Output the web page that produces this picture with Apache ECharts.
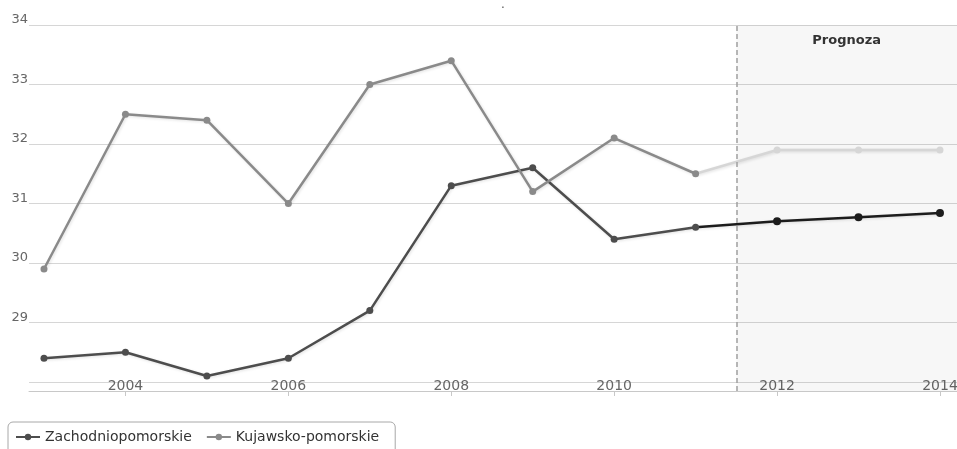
<!DOCTYPE html>
<html>
<head>
<meta charset="utf-8">
<script src="https://cdn.jsdelivr.net/npm/echarts@6/dist/echarts.min.js"></script>
<style>
  html, body { margin: 0; padding: 0; background: #fff; }
  #chart { width: 957px; height: 449px; }
</style>
</head>
<body>
<div id="chart"></div>
<script>
// Years and values
var years = [2003, 2004, 2005, 2006, 2007, 2008, 2009, 2010, 2011, 2012, 2013, 2014];
var zachodniopomorskie = [28.4, 28.5, 28.1, 28.4, 29.2, 31.3, 31.6, 30.4, 30.6, 30.7, 30.77, 30.84];
var kujawskoPomorskie = [29.9, 32.5, 32.4, 31.0, 33.0, 33.4, 31.2, 32.1, 31.5, 31.9, 31.9, 31.9];
var lastActualYear = 2011;
var forecastStart = 2011.5;
var xTickLabels = [2004, 2006, 2008, 2010, 2012, 2014];
var yTicks = [28, 29, 30, 31, 32, 33, 34];
var yTickLabels = [29, 30, 31, 32, 33, 34];
var seriesNames = ['Zachodniopomorskie', 'Kujawsko-pomorskie'];

var X_MIN = 2002.816, X_MAX = 2014.209;
var Y_MIN = 27.849, Y_MAX = 34;

function actualPart(vals) {
  var out = [];
  years.forEach(function (y, i) { if (y <= lastActualYear) out.push([y, vals[i]]); });
  return out;
}
function forecastPart(vals) {
  var out = [];
  years.forEach(function (y, i) {
    if (y === lastActualYear) out.push({ value: [y, vals[i]], symbol: 'none' });
    else if (y > lastActualYear) out.push([y, vals[i]]);
  });
  return out;
}

var FONT = 'DejaVu Sans';
var chart = echarts.init(document.getElementById('chart'), null, { renderer: 'canvas' });

var lineShadow = { shadowColor: 'rgba(0,0,0,0.12)', shadowBlur: 3, shadowOffsetX: 1, shadowOffsetY: 1 };

chart.setOption({
  animation: false,
  backgroundColor: '#ffffff',
  title: {
    text: '.',
    left: 496, top: -6,
    textStyle: { fontSize: 12, color: '#555', fontWeight: 'normal', fontFamily: FONT }
  },
  grid: { left: 29, right: 0, top: 25, bottom: 58, containLabel: false, outerBoundsMode: 'none' },
  legend: {
    data: seriesNames,
    left: 8, top: 422,
    orient: 'horizontal',
    padding: [8, 16, 10, 7],
    itemGap: 14,
    itemWidth: 24, itemHeight: 8,
    borderColor: '#a8a8a8', borderWidth: 1, borderRadius: 5,
    textStyle: { fontSize: 14, color: '#333', fontFamily: FONT }
  },
  xAxis: {
    type: 'value',
    min: X_MIN, max: X_MAX,
    axisLine: { show: true, lineStyle: { color: '#c8c8c8', width: 1 } },
    axisTick: { show: true, customValues: xTickLabels, length: 5, lineStyle: { color: '#c8c8c8' } },
    axisLabel: {
      customValues: xTickLabels, color: '#666', fontSize: 14, fontFamily: FONT,
      verticalAlign: 'middle', margin: -5,
      formatter: function (v) { return String(Math.round(v)); }
    },
    splitLine: { show: false }
  },
  yAxis: {
    type: 'value',
    min: Y_MIN, max: Y_MAX,
    axisLine: { show: false },
    axisTick: { show: false, customValues: yTicks },
    axisLabel: {
      customValues: yTickLabels, color: '#666', fontSize: 13, fontFamily: FONT,
      align: 'right', verticalAlign: 'bottom', margin: 1, lineHeight: 10
    },
    splitLine: { show: true, lineStyle: { color: '#d6d6d6', width: 1 } }
  },
  series: [
    {
      name: seriesNames[0], type: 'line', z: 4,
      data: actualPart(zachodniopomorskie),
      symbol: 'circle', symbolSize: 7,
      itemStyle: { color: '#4d4d4d' },
      lineStyle: Object.assign({ color: '#4d4d4d', width: 2.5 }, lineShadow),
      markArea: {
        silent: true,
        itemStyle: { color: 'rgba(0,0,0,0.03)' },
        label: {
          show: true, position: 'insideTop', distance: 9,
          fontSize: 13, fontWeight: 'bold', color: '#333', fontFamily: FONT
        },
        data: [[{ name: 'Prognoza', xAxis: forecastStart }, { xAxis: X_MAX }]]
      },
      markLine: {
        silent: true, symbol: 'none',
        label: { show: false },
        lineStyle: { color: '#a0a0a0', type: [5, 3], width: 1.5 },
        data: [{ xAxis: forecastStart }]
      }
    },
    {
      name: seriesNames[0], type: 'line', z: 3,
      data: forecastPart(zachodniopomorskie),
      symbol: 'circle', symbolSize: 8,
      itemStyle: { color: '#1c1c1c' },
      lineStyle: Object.assign({ color: '#1c1c1c', width: 2.5 }, lineShadow)
    },
    {
      name: seriesNames[1], type: 'line', z: 4,
      data: actualPart(kujawskoPomorskie),
      symbol: 'circle', symbolSize: 7,
      itemStyle: { color: '#8a8a8a' },
      lineStyle: Object.assign({ color: '#8a8a8a', width: 2.5 }, lineShadow)
    },
    {
      name: seriesNames[1], type: 'line', z: 3,
      data: forecastPart(kujawskoPomorskie),
      symbol: 'circle', symbolSize: 7,
      itemStyle: { color: '#d6d6d6' },
      lineStyle: Object.assign({ color: '#d6d6d6', width: 2.5 }, lineShadow)
    }
  ]
});
</script>
</body>
</html>
